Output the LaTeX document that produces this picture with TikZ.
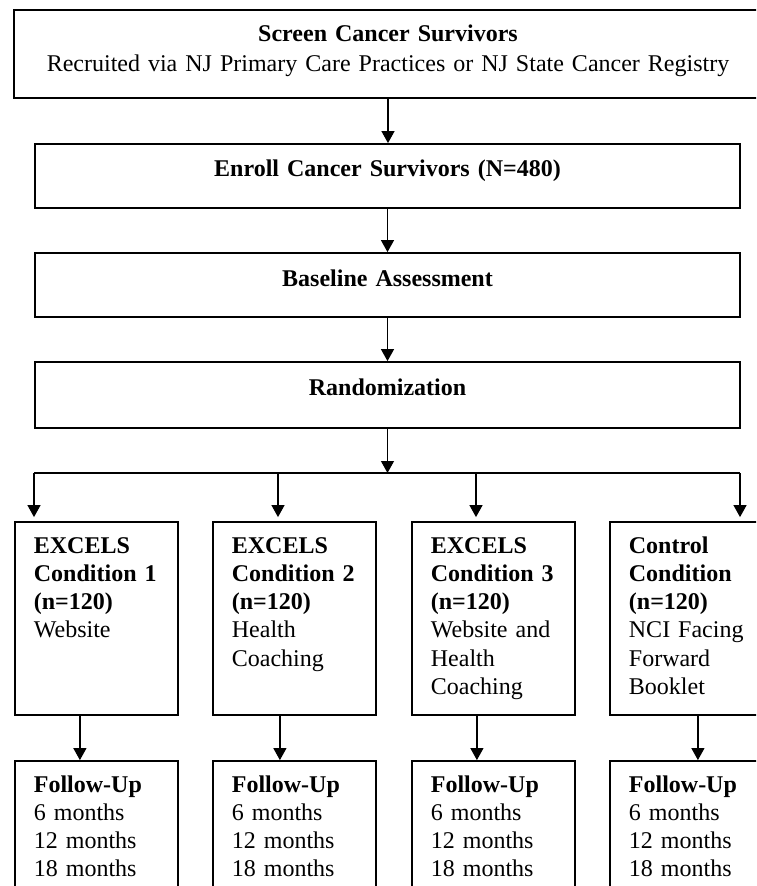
\documentclass[tikz,border=0pt]{standalone}
\usepackage{fontspec}
\setmainfont{Liberation Serif}
\usetikzlibrary{arrows.meta}

\begin{document}
\begin{tikzpicture}[x=0.5pt,y=-0.5pt,
>={Triangle[length=6pt,width=6.5pt]},
font=\fontsize{12}{14.15}\selectfont]
\tikzstyle{wide} = [draw, line width=0.9pt, inner sep=0pt, anchor=base, text width=352.5pt, align=center]
\tikzstyle{arm} = [draw, line width=0.9pt, inner xsep=9.5pt, inner ysep=0pt, anchor=base west, text width=62.5pt, align=left, text height=15.5pt, text depth=81pt]
\tikzstyle{fu} = [arm, text depth=56.5pt]
\tikzstyle{link} = [->, line width=0.6pt]

\useasboundingbox (0,0) rectangle (756,886);
\clip (0,0) rectangle (756,886);

\node[wide, text width=374pt, text height=16pt, text depth=28pt, font=\fontsize{12}{15}\selectfont](screen) at (388,42){\textbf{Screen Cancer Survivors}\\Recruited via NJ Primary Care Practices or NJ State Cancer Registry};
\node[wide, text height=16.5pt, text depth=15.5pt](enroll) at (387.5,177){\textbf{Enroll Cancer Survivors (N=480)}};
\node[wide, text height=17pt, text depth=15pt](assess) at (387.5,287){\textbf{Baseline Assessment}};
\node[wide, text height=16.5pt, text depth=16.5pt](rand) at (387.5,395){\textbf{Randomization}};

\draw[link] (screen.south) -- (screen.south |- enroll.north);
\draw[link] (enroll.south) -- (assess.north);
\draw[link] (assess.south) -- (rand.north);

% split to the four arms
\coordinate(sl) at (34,473);
\coordinate(s2) at (278,473);
\coordinate(s3) at (476,473);
\coordinate(sr) at (740,473);
\draw[link] (rand.south) -- (rand.south |- sl);
\draw[line width=0.6pt] (sl) -- (sr);

\node[arm](c1) at (14,553){\textbf{EXCELS}\\\textbf{Condition 1}\\\textbf{(n=120)}\\Website};
\node[arm](c2) at (212,553){\textbf{EXCELS}\\\textbf{Condition 2}\\\textbf{(n=120)}\\Health\\Coaching};
\node[arm](c3) at (411,553){\textbf{EXCELS}\\\textbf{Condition 3}\\\textbf{(n=120)}\\Website and\\Health\\Coaching};
\node[arm](c4) at (609,553){\textbf{Control}\\\textbf{Condition}\\\textbf{(n=120)}\\NCI Facing\\Forward\\Booklet};

\foreach \p/\c in {sl/c1,s2/c2,s3/c3,sr/c4}
  \draw[link, shorten >=2pt] (\p) -- (\p |- \c.north);

% follow-up boxes
\foreach \i/\x in {1/14,2/212,3/411,4/609}
  \node[fu](f\i) at (\x,792){\textbf{Follow-Up}\\6 months\\12 months\\18 months};

\foreach \i/\dx in {1/-8.25pt,2/-7.25pt,3/-8.25pt,4/3.25pt}
  \draw[link] ([xshift=\dx]c\i.south) -- ([xshift=\dx]f\i.north);

\end{tikzpicture}
\end{document}
